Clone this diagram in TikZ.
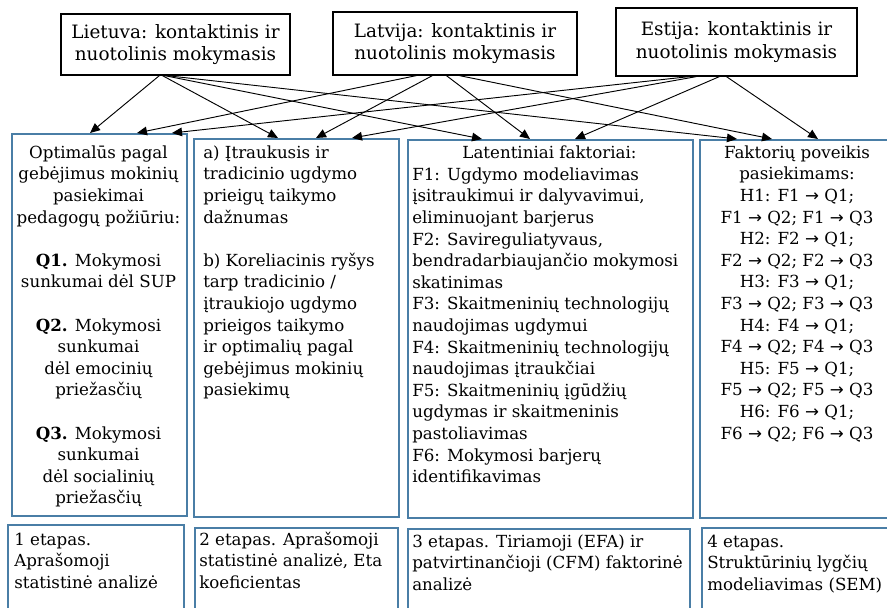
\documentclass[tikz,border=0pt]{standalone}
\usepackage{fontspec}
\setmainfont{DejaVu Serif}
\newfontfamily\arrowfont{DejaVu Sans}
\usetikzlibrary{arrows.meta,calc}
\definecolor{boxblue}{RGB}{74,126,166}
\newcommand\firststrut{\rule{0pt}{13pt}}
\newcommand\rarr{{\arrowfont →}}
\begin{document}
\begin{tikzpicture}[x=0.75pt,y=-0.75pt,
  font=\fontsize{12.5}{16.2}\selectfont,
  topbox/.style={draw=black, line width=0.9pt, align=center, inner sep=0pt, font=\fontsize{13.8}{17}\selectfont},
  bluebox/.style={draw=boxblue, line width=1.4pt, anchor=north west, inner sep=0pt},
  txt/.style={inner sep=0pt, anchor=north west, align=left},
  ctxt/.style={inner sep=0pt, anchor=north, align=center},
  arr/.style={-{Triangle[length=7.5pt,width=6.5pt]}, line width=0.7pt}]
\path[use as bounding box] (0,0) rectangle (887,607);
\clip (0,0) rectangle (887,607);
% top boxes
\node[topbox, minimum width=171.75pt, minimum height=45.75pt] (lt) at (175.5,44.5) {Lietuva: kontaktinis ir\\nuotolinis mokymasis};
\node[topbox, minimum width=183pt, minimum height=47.25pt] (lv) at (455,43.5) {Latvija: kontaktinis ir\\nuotolinis mokymasis};
\node[topbox, minimum width=180.75pt, minimum height=51pt] (es) at (736.5,42) {Estija: kontaktinis ir\\nuotolinis mokymasis};
% main boxes
\node[bluebox, minimum width=131.25pt, minimum height=286.5pt] (b1) at (11,133) {};
\node[bluebox, minimum width=153.75pt, minimum height=283.5pt] (b2) at (193,138) {};
\node[bluebox, minimum width=213.75pt, minimum height=283.5pt] (b3) at (407,139) {};
\node[bluebox, minimum width=150pt, minimum height=283.5pt] (b4) at (699,139) {};
% bottom boxes
\node[bluebox, minimum width=132pt, minimum height=75pt] (c1) at (7,524) {};
\node[bluebox, minimum width=152.25pt, minimum height=75pt] (c2) at (194,527) {};
\node[bluebox, minimum width=211.5pt, minimum height=75pt] (c3) at (407,528) {};
\node[bluebox, minimum width=150pt, minimum height=75pt] (c4) at (701,527) {};
% texts
\node[ctxt] (t1) at (98.5,140.7) {\firststrut Optimalūs pagal\\gebėjimus mokinių\\pasiekimai\\pedagogų požiūriu:\\[16.2pt]
\textbf{Q1.} Mokymosi\\sunkumai dėl SUP\\[16.2pt]
\textbf{Q2.} Mokymosi\\sunkumai\\dėl emocinių\\priežasčių\\[16.2pt]
\textbf{Q3.} Mokymosi\\sunkumai\\dėl socialinių\\priežasčių};
\node[txt] (t2) at (203,140.7) {\firststrut a) Įtraukusis ir\\tradicinio ugdymo\\prieigų taikymo\\dažnumas\\[16.2pt]
b) Koreliacinis ryšys\\tarp tradicinio /\\įtraukiojo ugdymo\\prieigos taikymo\\ir optimalių pagal\\gebėjimus mokinių\\pasiekimų};
\node[ctxt] (t3h) at (549.5,140.7) {\firststrut Latentiniai faktoriai:};
\node[txt] (t3) at (412,162.7) {\firststrut F1: Ugdymo modeliavimas\\įsitraukimui ir dalyvavimui,\\eliminuojant barjerus\\
F2: Savireguliatyvaus,\\bendradarbiaujančio mokymosi\\skatinimas\\
F3: Skaitmeninių technologijų\\naudojimas ugdymui\\
F4: Skaitmeninių technologijų\\naudojimas įtraukčiai\\
F5: Skaitmeninių įgūdžių\\ugdymas ir skaitmeninis\\pastoliavimas\\
F6: Mokymosi barjerų\\identifikavimas};
\node[ctxt] (t4) at (797,140.7) {\firststrut Faktorių poveikis\\pasiekimams:\\
H1: F1 \rarr\ Q1;\\F1 \rarr\ Q2; F1 \rarr\ Q3\\
H2: F2 \rarr\ Q1;\\F2 \rarr\ Q2; F2 \rarr\ Q3\\
H3: F3 \rarr\ Q1;\\F3 \rarr\ Q2; F3 \rarr\ Q3\\
H4: F4 \rarr\ Q1;\\F4 \rarr\ Q2; F4 \rarr\ Q3\\
H5: F5 \rarr\ Q1;\\F5 \rarr\ Q2; F5 \rarr\ Q3\\
H6: F6 \rarr\ Q1;\\F6 \rarr\ Q2; F6 \rarr\ Q3};
\node[txt] (u1) at (14,527.7) {\firststrut 1 etapas.\\Aprašomoji\\statistinė analizė};
\node[txt] (u2) at (199,527.7) {\firststrut 2 etapas. Aprašomoji\\statistinė analizė, Eta\\koeficientas};
\node[txt] (u3) at (412,529.7) {\firststrut 3 etapas. Tiriamoji (EFA) ir\\patvirtinančioji (CFM) faktorinė\\analizė};
\node[txt] (u4) at (707,529.7) {\firststrut 4 etapas.\\Struktūrinių lygčių\\modeliavimas (SEM)};
% arrows from Lietuva
\draw[arr] ($(lt.south west)+(99,0)$) -- ($(b1.north west)+(79,0)$);
\draw[arr] ($(lt.south west)+(102,0)$) -- ($(b2.north west)+(85,0)$);
\draw[arr] ($(lt.south west)+(104,0)$) -- ($(b3.north west)+(75,0)$);
\draw[arr] ($(lt.south west)+(106,0)$) -- ($(b4.north west)+(38,0)$);
% arrows from Latvija
\draw[arr] ($(lv.south west)+(84,0)$) -- ($(b1.north west)+(126,0)$);
\draw[arr] ($(lv.south west)+(100,0)$) -- ($(b2.north west)+(123,0)$);
\draw[arr] ($(lv.south west)+(114,0)$) -- ($(b3.north west)+(123,0)$);
\draw[arr] ($(lv.south west)+(127,0)$) -- ($(b4.north west)+(73,0)$);
% arrows from Estija
\draw[arr] ($(es.south west)+(74,0)$) -- ($(b1.north west)+(161,0)$);
\draw[arr] ($(es.south west)+(81,0)$) -- ($(b2.north west)+(159,0)$);
\draw[arr] ($(es.south west)+(104,0)$) -- ($(b3.north west)+(168,0)$);
\draw[arr] ($(es.south west)+(111,0)$) -- ($(b4.north west)+(119,0)$);
\end{tikzpicture}
\end{document}
